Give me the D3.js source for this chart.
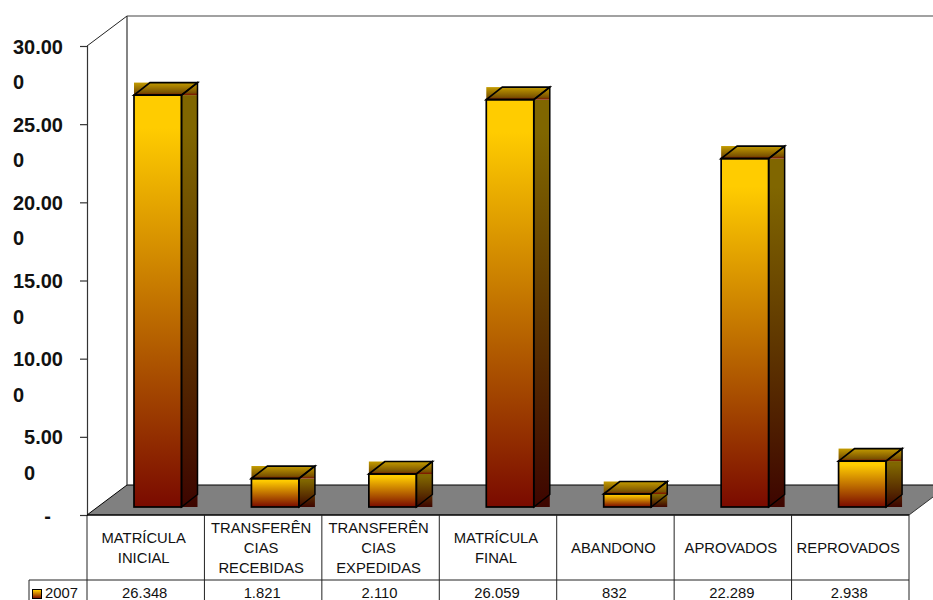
<!DOCTYPE html>
<html><head><meta charset="utf-8">
<script src="https://cdn.jsdelivr.net/npm/d3@7"></script>
<style>html,body{margin:0;padding:0;background:#fff;overflow:hidden}svg{display:block}text{font-family:"Liberation Sans",Arial,sans-serif}</style>
</head><body><svg id="c" width="933" height="600"></svg>
<script>
const categories=[["MATRÍCULA","INICIAL"],["TRANSFERÊN","CIAS","RECEBIDAS"],["TRANSFERÊN","CIAS","EXPEDIDAS"],["MATRÍCULA","FINAL"],["ABANDONO"],["APROVADOS"],["REPROVADOS"]];
const seriesName="2007";
const values=[26348,1821,2110,26059,832,22289,2938];
const valueLabels=["26.348","1.821","2.110","26.059","832","22.289","2.938"];
const ticks=[0,5000,10000,15000,20000,25000,30000];
const tickLabels=[["-"],["5.00","0"],["10.00","0"],["15.00","0"],["20.00","0"],["25.00","0"],["30.00","0"]];

const svg=d3.select("#c");
const L=87,R=909,Y0=515,Y1=46,DX=40,DY=30,bdx=16,bdy=12.5,floorGap=8;
const x=d3.scaleBand().domain(d3.range(categories.length)).range([L,R]).paddingInner(0).paddingOuter(0);
const y=d3.scaleLinear().domain([0,30000]).range([Y0,Y1]);
const barW=47.5,barOff=47;
const line=(a,b,c,d,col="#000",w=1)=>svg.append("line").attr("x1",a).attr("y1",b).attr("x2",c).attr("y2",d).attr("stroke",col).attr("stroke-width",w);

const defs=svg.append("defs");
function grad(id,stops){const g=defs.append("linearGradient").attr("id",id).attr("x1",0).attr("y1",0).attr("x2",0).attr("y2",1);
 stops.forEach(([o,c])=>g.append("stop").attr("offset",o).attr("stop-color",c));}
grad("front",[[0,"#FFCC00"],[0.08,"#FFCC00"],[1,"#7A0A00"]]);
grad("side",[[0,"#806600"],[0.08,"#806600"],[1,"#3D0500"]]);
grad("top",[[0,"#C49C00"],[0.8,"#7A5200"],[1,"#801000"]]);

// walls and floor
svg.append("polygon").attr("points",[[L,Y0],[L+DX,Y0-DY],[933,Y0-DY],[933,497],[R,Y0]].join(" ")).attr("fill","#808080");
line(L+DX,Y0-DY,933,Y0-DY,"#000",1.2);
line(L+DX,Y0-DY,L+DX,Y1-DY,"#333",1.2);
line(L+DX,Y1-DY,933,Y1-DY,"#444",1.2);
line(L,Y0,L+DX,Y0-DY,"#000",1);
line(L,Y1,L+DX,Y1-DY,"#222",1);
line(R,Y0,933,497,"#333",1);

// y axis
const ax=svg.append("g").attr("transform",`translate(${L},0)`).call(d3.axisLeft(y).tickValues(ticks).tickSize(7).tickFormat(""));
ax.selectAll("path,line").attr("stroke","#333").attr("stroke-width",1.2);
ticks.forEach((t,i)=>{
 const lab=tickLabels[i], tY=y(t)+7.5;
 const first=svg.append("text").attr("x",63).attr("y",tY).attr("text-anchor","end").attr("font-size",20).attr("font-weight","bold").attr("fill","#111").text(lab[0]);
 if(lab.length===1){first.attr("x",51);return;}
 const w=first.node().getComputedTextLength();
 svg.append("text").attr("x",63-w).attr("y",tY+35.5).attr("font-size",20).attr("font-weight","bold").attr("fill","#111").text(lab[1]);
});

// bars
values.forEach((v,i)=>{
 const x0=x(i)+barOff,x1=x0+barW,b=Y0-floorGap,t=b-(Y0-y(v));
 const g=svg.append("g");
 g.append("rect").attr("x",x1).attr("y",t).attr("width",bdx).attr("height",b-t).attr("fill","url(#side)");
 g.append("rect").attr("x",x0).attr("y",t-bdy).attr("width",barW+bdx).attr("height",bdy).attr("fill","url(#top)");
 g.append("rect").attr("x",x0).attr("y",t).attr("width",barW).attr("height",b-t).attr("fill","url(#front)").attr("stroke","#000").attr("stroke-width",1.7);
 g.append("polygon").attr("points",[[x0,t],[x0+bdx,t-bdy],[x1+bdx,t-bdy],[x1,t]].join(" ")).attr("fill","none").attr("stroke","#000").attr("stroke-width",1.7);
 g.append("polygon").attr("points",[[x1,t],[x1+bdx,t-bdy],[x1+bdx,b-bdy],[x1,b]].join(" ")).attr("fill","none").attr("stroke","#000").attr("stroke-width",1.5);
});

// table
const tY=580;
line(L,Y0,R,Y0,"#000",1.4);
line(29,tY,R,tY,"#222",1);
line(29,tY,29,600,"#222",1);
d3.range(categories.length+1).forEach(i=>{const px=i<categories.length?x(i):R;line(px,Y0,px,600,"#222",1);});
categories.forEach((c,i)=>{
 const cx=x(i)+x.bandwidth()/2-2, lh=20, start=548-(c.length-1)*lh/2;
 c.forEach((s,j)=>svg.append("text").attr("x",cx).attr("y",start+j*lh+5).attr("text-anchor","middle").attr("font-size",14.8).attr("fill","#111").text(s));
 svg.append("text").attr("x",cx+1).attr("y",598).attr("text-anchor","middle").attr("font-size",14.8).attr("fill","#111").text(valueLabels[i]);
});
svg.append("rect").attr("x",32.5).attr("y",589.5).attr("width",9).attr("height",9).attr("fill","url(#front)").attr("stroke","#000");
svg.append("text").attr("x",45).attr("y",598).attr("font-size",14.8).attr("fill","#111").text(seriesName);
</script></body></html>
